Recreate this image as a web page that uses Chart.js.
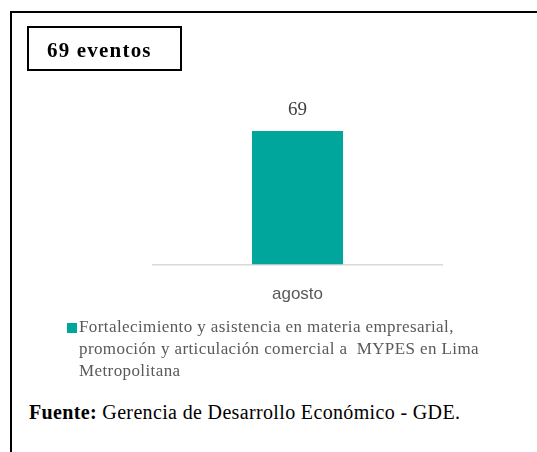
<!DOCTYPE html>
<html>
<head>
<meta charset="utf-8">
<script src="https://cdn.jsdelivr.net/npm/chart.js@4"></script>
<style>
  body { margin: 0; background: #fff; }
  #marco { position: relative; width: 537px; height: 452px; overflow: hidden; }
  #borde { position: absolute; left: 10px; top: 11px; width: 600px; height: 500px; border: 2px solid #000; }
  #titulo { position: absolute; left: 27px; top: 26px; width: 151px; height: 41px; border: 2px solid #000;
            font: bold 21px "Liberation Serif", serif; letter-spacing: 1.2px; line-height: 45px; }
  #titulo span { margin-left: 18px; }
  #lienzo { position: absolute; left: 0; top: 0; }
  #leyenda { position: absolute; left: 79px; top: 316px; width: 440px;
             font: 17px "Liberation Serif", serif; letter-spacing: 0.4px; line-height: 22px; color: #595959; white-space: nowrap; }
  #cuadro { position: absolute; left: 67px; top: 323px; width: 10px; height: 10px; }
  #fuente { position: absolute; left: 29px; top: 400px; font: 20px "Liberation Serif", serif; letter-spacing: 0.35px;
            line-height: 24px; color: #000; white-space: nowrap; }
</style>
</head>
<body>
<div id="marco">
  <div id="borde"></div>
  <canvas id="lienzo" width="537" height="325"></canvas>
  <div id="titulo"><span>69 eventos</span></div>
  <div id="cuadro"></div>
  <div id="leyenda"></div>
  <div id="fuente"><b>Fuente:</b> Gerencia de Desarrollo Económico - GDE.</div>
</div>
<script>
// Datos del gráfico
const meses = ['agosto'];
const eventos = [69];
const serie = 'Fortalecimiento y asistencia en materia empresarial, promoción y articulación comercial a  MYPES en Lima Metropolitana';
const colorBarra = '#00A59B';

document.getElementById('cuadro').style.background = colorBarra;
document.getElementById('leyenda').innerHTML =
  'Fortalecimiento y asistencia en materia empresarial,<br>promoción y articulación comercial a&nbsp; MYPES en Lima<br>Metropolitana';

// etiqueta de valor encima de la barra
const etiquetaValor = {
  id: 'etiquetaValor',
  afterDatasetsDraw(chart) {
    const ctx = chart.ctx;
    const meta = chart.getDatasetMeta(0);
    ctx.save();
    ctx.font = '19px "Liberation Serif", serif';
    ctx.fillStyle = '#404040';
    ctx.textAlign = 'center';
    ctx.textBaseline = 'bottom';
    meta.data.forEach((barra, i) => {
      ctx.fillText(eventos[i], barra.x, barra.y - 12);
    });
    ctx.restore();
  }
};

new Chart(document.getElementById('lienzo').getContext('2d'), {
  type: 'bar',
  data: {
    labels: meses,
    datasets: [{
      label: serie,
      data: eventos,
      backgroundColor: colorBarra,
      categoryPercentage: 1,
      barPercentage: 0.315
    }]
  },
  options: {
    responsive: false,
    animation: false,
    layout: { padding: { left: 153, right: 95, top: 71, bottom: 0 } },
    plugins: { legend: { display: false }, tooltip: { enabled: false } },
    scales: {
      x: {
        grid: { display: false, drawTicks: false },
        border: { display: true, color: '#d9d9d9', width: 1.5 },
        ticks: { color: '#595959', font: { family: '"Liberation Sans", Arial, sans-serif', size: 17 }, padding: 20 }
      },
      y: { display: false, min: 0, max: 100 }
    }
  },
  plugins: [etiquetaValor]
});
</script>
</body>
</html>
